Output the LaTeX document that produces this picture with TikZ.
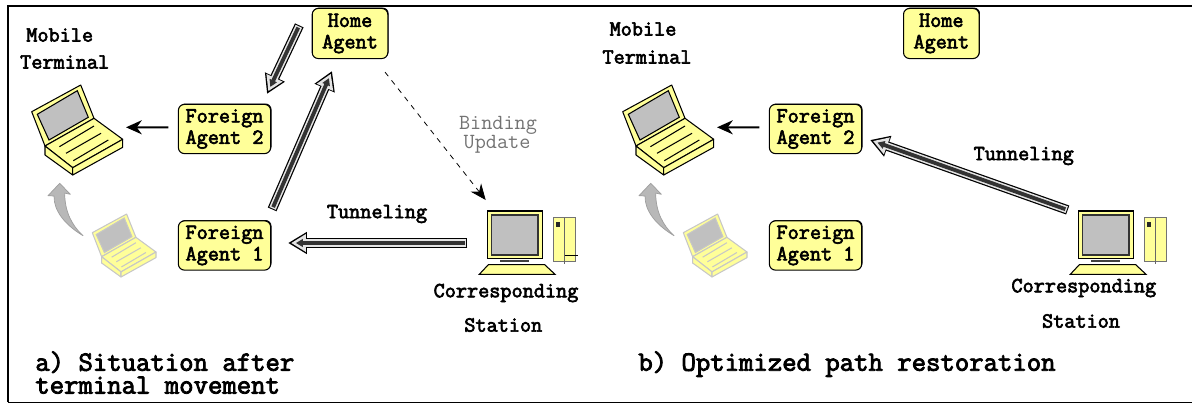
\documentclass[tikz,border=0pt]{standalone}
\usepackage{fontspec}
\setmonofont[BoldFont=*,BoldFeatures={FakeBold=3}]{Latin Modern Mono}
\usetikzlibrary{arrows.meta,shadows}
\definecolor{paleyellow}{HTML}{FFFF99}
\definecolor{screengray}{HTML}{C0C0C0}
\definecolor{stripegray}{HTML}{E4E4E4}
\tikzset{
    agentbox/.style = {rounded corners=3.4pt, draw=black, line width=.6pt, fill=paleyellow, align=center,
        font=\ttfamily\bfseries\fontsize{12.3}{12.2}\selectfont, inner sep=0pt,
        drop shadow={shadow xshift=.5pt, shadow yshift=.5pt, fill=black, opacity=1}},
    foreign/.style = {agentbox, minimum width=52.5pt, minimum height=28pt},
    home/.style = {agentbox, minimum width=43pt, minimum height=28.5pt},
    label/.style = {font=\ttfamily\bfseries\fontsize{12.3}{12}\selectfont, inner sep=0pt},
    note/.style = {font=\ttfamily\fontsize{12.3}{12}\selectfont, text=black!55, inner sep=0pt},
    caption/.style = {font=\ttfamily\bfseries\fontsize{15.9}{13}\selectfont, align=left, anchor=north west, inner sep=0pt},
    tunnel/.style = {line width=2.2pt, draw=black!80, shorten >=4.4pt, shorten <=1.4pt, -{Triangle[length=4pt,width=4.4pt]},
        preaction={draw=black, line width=5.4pt, shorten >=0pt, shorten <=0pt, -{Triangle[length=10.6pt,width=11.8pt]}},
        preaction={draw=stripegray, line width=4pt, shorten >=1.7pt, shorten <=.6pt, -{Triangle[length=8.4pt,width=9.6pt]}}},
    pointer/.style = {-{Stealth[length=9pt,width=8pt]}, line width=1.2pt},
    update/.style = {-{Stealth[length=9pt,width=7.5pt]}, dashed, line width=.45pt},
    laptop/.pic = {
        \filldraw[draw=#1, fill=paleyellow, line width=.6pt, line join=round] (0,26.7) -- (49,0) -- (62.3,33.3) -- (13.3,61) -- cycle;
        \filldraw[draw=#1, fill=screengray, line width=.6pt] (5.6,29.3) -- (45.6,5.7) -- (56.6,32.3) -- (17.3,55) -- cycle;
        \filldraw[draw=#1, fill=paleyellow, line width=.6pt, line join=round] (13.3,61) -- (62.3,33.3) -- (91,54.3) -- (41,82.7) -- cycle;
        \filldraw[draw=#1, fill=paleyellow, line width=.6pt, line join=round] (13.3,61) -- (41,82.7) -- (41,90) -- (13.3,70) -- cycle;
        \filldraw[draw=#1, fill=paleyellow, line width=.6pt, line join=round] (41,82.7) -- (91,54.3) -- (91,62.3) -- (41,90) -- cycle;
        \draw[draw=#1, line width=.6pt] (27.7,61.7) -- (62.3,41);
        \draw[draw=#1, line width=.6pt] (34.3,68.3) -- (69.3,48.3);
        \draw[draw=#1, line width=.6pt] (41.6,75.7) -- (76.6,55);
    },
    station/.pic = {
        \filldraw[fill=paleyellow, line width=.6pt] (0,0) rectangle (55,47.3);
        \filldraw[fill=screengray, draw=black!80, line width=.7pt] (4.4,4) rectangle (50.7,44);
        \fill[black!75] (13,49) rectangle (42,51);
        \filldraw[fill=paleyellow, line width=.6pt] (1,53.7) -- (57.4,53.7) -- (67.7,63.3) -- (-8,63.3) -- cycle;
        \filldraw[fill=paleyellow, draw=black!55, line width=.6pt] (66.4,6.7) rectangle (88,50.7);
        \draw[draw=black!60, line width=.6pt] (77.4,6.7) -- (77.4,53.3);
        \fill[black!85] (68.7,11) rectangle (72.7,15.7);
    },
    movearrow/.pic = {
        \filldraw[fill=black!28, draw=black!38, line width=.4pt, line join=round] (12,0) -- (22.7,11) -- (17,9.8)
            .. controls (17,28) and (24,42) .. (35.3,52.4)
            .. controls (18,42) and (6,28) .. (6.3,12.7) -- (0.3,12.4) -- cycle;
    }
}
\begin{document}
\begin{tikzpicture}[x=0.02cm, y=-0.02cm]
    \useasboundingbox (0,0) rectangle (1192,403);
    % frame
    \draw[line width=.9pt] (8,402) -- (8,6) -- (1192,6);
    \draw[line width=.6pt] (8,402.4) -- (1192,402.4);

    % a) situation after the movement
    \node[home] at (350,33.5) (ha1) {Home\\Agent};
    \node[foreign] at (224.5,129) (fa21) {Foreign\\Agent 2};
    \node[foreign] at (224.5,245.5) (fa11) {Foreign\\Agent 1};
    \node[label] at (59.7,35) (mobile1) {Mobile};
    \node[label] at (64.7,62) (terminal1) {Terminal};
    \node[label] at (377,214) (tunneling1) {Tunneling};
    \node[note] at (498,125) (binding1) {Binding};
    \node[note] at (497,144) (updatenote1) {Update};
    \node[label] at (506,293) (corr1) {Corresponding};
    \node[label] at (503.3,325) (station1) {Station};
    \node[caption] at (35,351) (capa) {a) Situation after\\terminal movement};
    \coordinate (lap1) at (31.7,85);
    \coordinate (oldlap1) at (92.3,214);
    \coordinate (cs1) at (487.3,211);
    \pic[scale=.7] at (oldlap1) {laptop=black!22};
    \pic at (lap1) {laptop=black};
    \pic at (47.7,183.3) {movearrow};
    \pic at (cs1) {station};
    \draw[line width=.5pt] ([shift={(77.4,44.3)}]cs1) -- ([shift={(90.4,44.3)}]cs1);
    \draw[tunnel] ([shift={(-50.7,-33.7)}]ha1.south) -- ([shift={(42.5,-10)}]fa21.north);
    \draw[tunnel] ([shift={(1,-11)}]fa11.north east) -- ([shift={(-18,12)}]ha1.south);
    \draw[tunnel] ([shift={(-20,32)}]cs1) -- ([shift={(17,-2.5)}]fa11.east);
    \draw[pointer] ([shift={(-9.5,-1.7)}]fa21.west) -- ([shift={(94.3,42.3)}]lap1);
    \draw[update] ([shift={(35,13)}]ha1.south) -- ([shift={(-1.6,-11)}]cs1);

    % b) restored path
    \node[home] at (941.3,33.5) (ha2) {Home\\Agent};
    \node[foreign] at (815.5,129) (fa22) {Foreign\\Agent 2};
    \node[foreign] at (815.5,245.5) (fa12) {Foreign\\Agent 1};
    \node[label] at (643,29) (mobile2) {Mobile};
    \node[label] at (647,57) (terminal2) {Terminal};
    \node[label] at (1023.7,156) (tunneling2) {Tunneling};
    \node[label] at (1083.8,288) (corr2) {Corresponding};
    \node[label] at (1081,321) (station2) {Station};
    \node[caption] at (638,351) (capb) {b) Optimized path restoration};
    \coordinate (lap2) at (622.7,85);
    \coordinate (oldlap2) at (683.3,214);
    \coordinate (cs2) at (1078.3,211);
    \pic[scale=.7] at (oldlap2) {laptop=black!22};
    \pic at (lap2) {laptop=black};
    \pic at (638.7,183.3) {movearrow};
    \pic at (cs2) {station};
    \draw[tunnel] ([shift={(-10.6,-1)}]cs2) -- ([shift={(8,11)}]fa22.east);
    \draw[pointer] ([shift={(-9.5,-1.7)}]fa22.west) -- ([shift={(94.3,42.3)}]lap2);
\end{tikzpicture}
\end{document}
